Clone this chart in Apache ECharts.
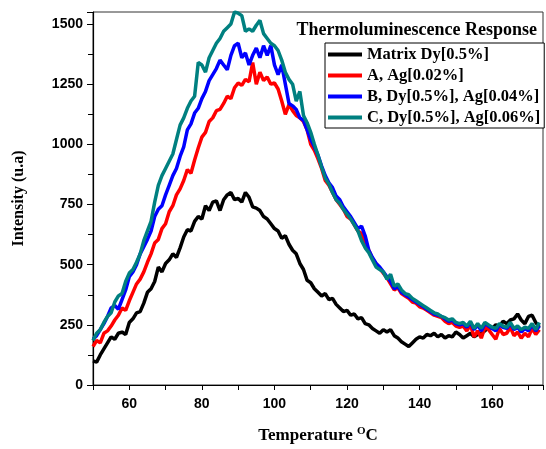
<!DOCTYPE html>
<html lang="en">

<head>
    <meta charset="UTF-8">
    <title>Thermoluminescence Response</title>
    <script src="https://cdn.jsdelivr.net/npm/echarts@6/dist/echarts.min.js"></script>
    <style>
        html, body { margin: 0; padding: 0; background: #fff; }
        #tl { width: 546px; height: 449px; }
    </style>
</head>

<body>
    <div id="tl"></div>
    <script>
        // temperature starts at 50 °C, one reading per degree
        const startTemp = 50;
        const seriesNames = ['Matrix Dy[0.5%]', 'A, Ag[0.02%]', 'B, Dy[0.5%], Ag[0.04%]', 'C, Dy[0.5%], Ag[0.06%]'];
        const seriesColors = ['#000000', '#ff0000', '#0000ff', '#008080'];

        const matrixDy = [100, 95, 125, 150, 175, 200, 190, 215, 220, 210,
            260, 275, 300, 305, 340, 385, 400, 430, 490, 470,
            505, 520, 545, 530, 570, 615, 645, 640, 680, 700,
            690, 745, 725, 760, 765, 725, 770, 790, 800, 770,
            775, 760, 800, 780, 740, 735, 725, 700, 690, 670,
            650, 640, 610, 620, 585, 560, 545, 505, 480, 435,
            425, 400, 385, 370, 380, 355, 360, 335, 320, 305,
            310, 290, 295, 275, 280, 255, 250, 235, 225, 215,
            230, 220, 230, 205, 195, 180, 170, 160, 175, 190,
            200, 195, 210, 205, 215, 200, 210, 195, 205, 200,
            220, 210, 195, 205, 215, 200, 210, 215, 225, 240,
            235, 250, 245, 265, 255, 270, 275, 295, 270, 255,
            285, 290, 260, 240];

        const sampleA = [160, 185, 175, 215, 225, 245, 270, 290, 320, 310,
            350, 385, 420, 440, 470, 510, 545, 590, 605, 650,
            670, 720, 745, 790, 815, 850, 895, 880, 935, 985,
            1030, 1050, 1095, 1110, 1140, 1145, 1170, 1200, 1190, 1235,
            1255, 1245, 1270, 1260, 1340, 1250, 1300, 1265, 1280, 1250,
            1255, 1230, 1180, 1125, 1165, 1140, 1120, 1110, 1095, 1060,
            1000, 975, 940, 900, 850, 830, 800, 770, 750, 730,
            700, 690, 665, 640, 630, 575, 560, 525, 505, 485,
            465, 445, 420, 395, 405, 380, 370, 360, 345, 340,
            325, 320, 310, 300, 290, 285, 280, 265, 255, 260,
            245, 240, 245, 225, 250, 200, 225, 195, 240, 230,
            210, 190, 235, 210, 215, 240, 205, 220, 195, 215,
            200, 235, 210, 230];

        const sampleB = [190, 205, 230, 255, 285, 320, 330, 315, 355, 395,
            450, 470, 500, 545, 575, 605, 640, 700, 730, 745,
            790, 830, 870, 900, 950, 990, 1060, 1085, 1130, 1150,
            1190, 1220, 1265, 1290, 1315, 1350, 1330, 1310, 1370, 1410,
            1420, 1360, 1380, 1330, 1370, 1400, 1360, 1410, 1370, 1410,
            1330, 1290, 1330, 1250, 1170, 1160, 1145, 1110, 1100, 1060,
            1020, 990, 955, 910, 870, 840, 820, 785, 770, 740,
            720, 700, 675, 650, 660, 620, 560, 530, 505, 490,
            470, 450, 430, 400, 410, 385, 375, 365, 355, 345,
            335, 325, 315, 305, 295, 290, 285, 275, 265, 270,
            255, 250, 255, 240, 260, 230, 250, 225, 255, 245,
            235, 225, 250, 240, 235, 255, 230, 240, 220, 235,
            225, 250, 225, 245];

        const sampleC = [185, 215, 230, 260, 285, 300, 345, 370, 380, 430,
            465, 480, 510, 545, 600, 640, 680, 760, 830, 870,
            900, 930, 960, 1020, 1080, 1110, 1150, 1180, 1200, 1340,
            1330, 1300, 1360, 1390, 1420, 1440, 1470, 1485, 1500, 1550,
            1545, 1535, 1470, 1480, 1470, 1495, 1515, 1460, 1440, 1420,
            1410, 1390, 1350, 1300, 1270, 1250, 1180, 1220, 1120, 1090,
            1050, 1000, 955, 905, 860, 835, 800, 770, 755, 730,
            710, 690, 665, 640, 600, 570, 550, 520, 490, 480,
            470, 440, 460, 410, 420, 395, 380, 375, 360, 350,
            340, 330, 320, 310, 300, 295, 285, 280, 270, 275,
            260, 255, 260, 245, 265, 235, 255, 235, 260, 250,
            240, 235, 255, 245, 240, 260, 235, 245, 230, 240,
            235, 255, 230, 260];

        const allValues = [matrixDy, sampleA, sampleB, sampleC];

        let chart = echarts.init(document.getElementById('tl'));

        let serifBold = { fontFamily: 'Liberation Serif', fontWeight: 'bold', color: '#000' };

        let options = {
            animation: false,
            title: {
                text: 'Thermoluminescence Response',
                right: 4,
                top: 16,
                textStyle: Object.assign({ fontSize: 18 }, serifBold)
            },
            legend: {
                orient: 'vertical',
                left: 325,
                top: 43,
                padding: [3, 4, 2, 3],
                itemGap: 4,
                itemWidth: 34,
                itemHeight: 4,
                icon: 'rect',
                borderColor: '#000',
                borderWidth: 1,
                backgroundColor: '#fff',
                textStyle: Object.assign({ fontSize: 16.5 }, serifBold),
                data: seriesNames
            },
            grid: {
                left: 93,
                right: 0,
                top: 12,
                bottom: 61,
                show: true,
                borderColor: '#333',
                borderWidth: 1
            },
            xAxis: {
                type: 'value',
                min: 50,
                max: 174,
                interval: 10,
                name: 'Temperature {sup|O}C',
                nameLocation: 'middle',
                nameGap: 41,
                nameTextStyle: Object.assign({
                    fontSize: 17,
                    rich: { sup: { fontSize: 11, fontFamily: 'Liberation Serif', fontWeight: 'bold', verticalAlign: 'top', padding: [0, 0, 8, 0] } }
                }, serifBold),
                axisLine: { lineStyle: { color: '#000', width: 1.2 } },
                axisTick: { inside: false, length: 5, lineStyle: { color: '#000' } },
                axisLabel: {
                    margin: 12,
                    color: '#000',
                    fontFamily: 'Liberation Sans',
                    fontWeight: 'bold',
                    fontSize: 14,
                    formatter: function (v) { return v % 20 === 0 ? String(v) : ''; }
                },
                splitLine: { show: false }
            },
            yAxis: {
                type: 'value',
                min: 0,
                max: 1550,
                interval: 250,
                name: 'Intensity (u.a)',
                nameLocation: 'middle',
                nameGap: 66,
                nameTextStyle: Object.assign({ fontSize: 16 }, serifBold),
                axisLine: { show: true, lineStyle: { color: '#000', width: 1.2 } },
                axisTick: { inside: false, length: 6, lineStyle: { color: '#000' } },
                minorTick: { show: true, splitNumber: 2, length: 5, lineStyle: { color: '#000' } },
                axisLabel: {
                    margin: 10,
                    color: '#000',
                    fontFamily: 'Liberation Sans',
                    fontWeight: 'bold',
                    fontSize: 14,
                    showMaxLabel: false,
                    formatter: function (v) { return String(v); }
                },
                splitLine: { show: false }
            },
            series: allValues.map(function (vals, k) {
                return {
                    name: seriesNames[k],
                    type: 'line',
                    showSymbol: false,
                    symbol: 'none',
                    color: seriesColors[k],
                    lineStyle: { width: 3.5, color: seriesColors[k] },
                    data: vals.map(function (v, i) { return [startTemp + i, v]; })
                };
            })
        };

        chart.setOption(options);
    </script>
</body>

</html>
